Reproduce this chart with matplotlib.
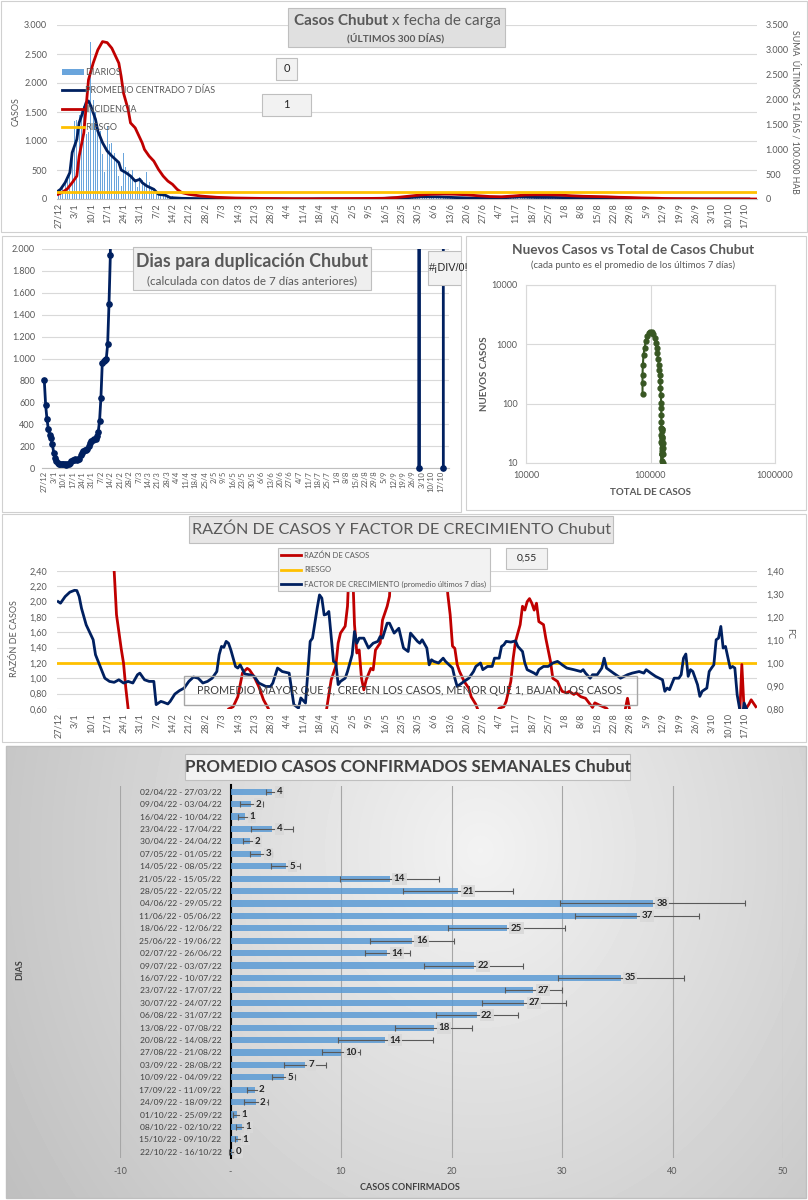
import numpy as np
import matplotlib
matplotlib.use("Agg")
import matplotlib.pyplot as plt
from matplotlib.patches import Rectangle
from matplotlib.ticker import FuncFormatter

plt.rcParams['font.family'] = ['Lato', 'DejaVu Sans']

# --------------------------------------------------
# Datos
# --------------------------------------------------
fechas_ticks = ['27/12', '3/1', '10/1', '17/1', '24/1', '31/1', '7/2', '14/2', '21/2', '28/2',
                '7/3', '14/3', '21/3', '28/3', '4/4', '11/4', '18/4', '25/4', '2/5', '9/5',
                '16/5', '23/5', '30/5', '6/6', '13/6', '20/6', '27/6', '4/7', '11/7', '18/7',
                '25/7', '1/8', '8/8', '15/8', '22/8', '29/8', '5/9', '12/9', '19/9', '26/9',
                '3/10', '10/10', '17/10']

# casos diarios desde el 27/12 (300 días)
diarios = [150, 120, 200, 260, 330, 560, 700, 1350, 1370, 1440,
           1560, 1600, 1120, 1150, 2700, 1700, 1500, 1270, 1180, 780,
           460, 1250, 950, 960, 800, 640, 400, 230, 790, 560,
           480, 420, 500, 350, 200, 380, 330, 280, 470, 300,
           180, 100, 120, 80, 60, 50, 45, 30, 20, 50,
           40, 35, 30, 28, 20, 15, 25, 18, 14, 12, 10, 9, 12, 8, 7, 6, 5, 8, 6, 5,
           4, 7, 5, 4, 3, 6, 4, 3, 5, 3, 2, 4, 3, 3, 2, 4, 5, 2, 3, 3,
           5, 4, 3, 6, 4, 2, 3, 2, 3, 1, 2, 3, 1, 1, 1, 2, 1, 2, 1, 1, 1,
           2, 4, 6, 5, 4, 3, 3, 3, 2, 1, 2, 2, 1, 2, 2, 3, 4, 3, 2, 3, 3,
           4, 5, 6, 7, 5, 4, 4, 8, 10, 14, 16, 18, 17, 18, 15, 22, 25, 20, 18, 22, 22,
           30, 45, 52, 40, 35, 30, 35, 42, 38, 35, 40, 32, 36, 35, 30, 28, 26, 22, 24, 20, 25,
           18, 17, 15, 16, 18, 14, 17, 12, 14, 15, 16, 13, 14, 15, 17, 20, 25, 24, 22, 23, 23,
           30, 38, 40, 36, 33, 35, 35, 30, 28, 26, 27, 25, 28, 28, 24, 27, 28, 26, 27, 28, 26,
           25, 23, 21, 22, 20, 22, 23, 20, 19, 17, 18, 18, 19, 18, 15, 16, 13, 14, 12, 14, 14,
           12, 10, 9, 11, 9, 10, 9, 8, 7, 6, 7, 6, 7, 6, 6, 5, 4, 5, 5, 4, 5,
           3, 2, 2, 3, 2, 2, 1, 2, 3, 2, 3, 2, 2, 2, 1, 0, 1, 1, 0, 1, 0,
           1, 1, 2, 1, 0, 1, 1, 1, 0, 1, 1, 1, 0, 1, 0, 1, 0, 0, 0, 0, 0]

# promedio centrado 7 días
navy_dias = [0, 1, 3, 5, 6, 8, 9, 11, 12, 13, 14, 16, 17, 19, 21, 23, 26, 27, 29, 31,
             33, 35, 36, 38, 41, 43, 46, 48, 53, 60, 70, 80,
             93, 100, 107, 114, 121, 128, 135, 142, 149, 156, 163, 170, 177, 184, 191,
             198, 205, 212, 219, 226, 233, 240, 247, 254, 261, 268, 275, 282, 289, 296]
navy_vals = [138, 167, 283, 455, 800, 1029, 1317, 1546, 1662, 1690, 1603, 1374, 1172, 972,
             828, 741, 628, 500, 455, 397, 310, 340, 283, 224, 167, 81, 64, 24, 12, 7, 5, 4,
             3.8, 1.9, 1.3, 3.8, 1.8, 2.8, 5.0, 14.4, 20.6, 38.2, 36.8, 25.0, 16.4, 14.2,
             22.0, 35.3, 27.4, 26.6, 22.3, 18.4, 14.0, 10.0, 6.7, 4.8, 2.2, 2.3, 0.6, 1.0,
             0.7, 0.1]

# incidencia: suma últimos 14 días / 100.000 hab
incid_dias = [0, 2, 4, 6, 8, 9, 11, 12, 13, 15, 17, 19, 21, 23, 26, 27, 28, 30, 31, 33,
              34, 36, 37, 39, 41, 43, 45, 47, 49, 51, 53, 56, 61, 68, 76, 90, 100, 110, 120, 130,
              140, 145, 150, 155, 160, 165, 170, 175, 180, 185, 190, 195, 200, 205, 210, 215,
              220, 225, 230, 235, 240, 245, 250, 255, 260, 265, 270, 280, 290, 299]
incid_vals = [94, 140, 208, 329, 461, 862, 1331, 1864, 2399, 2733, 3000, 3166, 3146, 3033,
              2733, 2465, 2132, 1797, 1531, 1431, 1331, 1130, 996, 862, 762, 595, 461, 361,
              295, 194, 128, 94, 60, 34, 20, 10, 5, 5, 8, 10, 15, 30, 55, 80, 95, 100, 95, 85,
              65, 50, 45, 60, 80, 85, 85, 80, 65, 55, 50, 45, 35, 30, 22, 18, 10, 6, 4, 2, 1, 0]
riesgo_incidencia = 150

# días para duplicación (valores fuera de escala arriba de 2.000)
dup_dias = list(range(50)) + [50, 277, 278, 279, 295, 296]
dup_vals = [800, 575, 445, 355, 300, 270, 215, 140, 95, 60,
            45, 38, 36, 35, 34, 32, 30, 33, 40, 50,
            65, 72, 76, 78, 77, 80, 85, 115, 140, 152,
            160, 165, 175, 200, 225, 245, 260, 265, 268, 290,
            330, 430, 640, 955, 975, 990, 1000, 1130, 1500, 1945,
            1e5, 1e5, 0, 1e5, 1e5, 0]

# nuevos casos vs total de casos
total_casos = [86300, 86300, 86300, 86800, 87900, 89500, 91800, 94000, 96400, 99400,
               102500, 105700, 107700, 110300, 112400, 113800, 115200, 116600, 118100, 118800,
               119500, 120300, 121000, 121800, 122000, 122200, 122300, 122400, 122500, 122550,
               122600, 122650, 122700, 122720, 122740, 122760, 122800, 122900, 123100, 123350,
               123600, 123780, 123900, 124000, 124200, 124400, 124600, 124750, 124900, 125000,
               125100, 125150, 125200, 125220]
nuevos_casos = [145, 222, 306, 451, 665, 861, 1143, 1387, 1538, 1641,
                1599, 1480, 1300, 1045, 861, 710, 569, 451, 372, 306,
                237, 183, 141, 102, 84, 65, 50, 39, 30, 23,
                18, 14, 11, 8, 5, 4, 6, 14, 21, 38,
                37, 25, 16, 14, 22, 35, 27, 27, 22, 18,
                14, 10, 7, 5]

# razón de casos (día, valor)
razon_puntos = [(0, 3.2), (10, 3.5), (20, 2.9), (24, 2.40), (25, 1.83), (27, 1.39), (28, 1.20),
                (29, 0.87), (30, 0.60), (32, 0.35), (50, 0.30), (70, 0.45), (73, 0.60), (75, 0.63),
                (77, 0.76), (79, 1.07), (81, 1.13), (82, 1.11), (84, 1.02), (86, 0.89), (88, 0.72),
                (90, 0.61), (91, 0.53), (100, 0.30), (113, 0.45), (115, 0.59), (117, 0.98),
                (119, 1.16), (120, 1.46), (121, 1.59), (123, 1.68), (124, 1.94), (125, 2.70),
                (126, 2.60), (127, 1.70), (128, 1.33), (129, 1.37), (130, 1.00), (131, 0.85),
                (132, 0.98), (134, 1.13), (135, 1.11), (136, 1.37), (138, 1.46), (139, 1.76),
                (141, 1.94), (142, 2.07), (143, 2.70), (155, 3.20), (166, 2.45), (167, 2.09),
                (168, 1.83), (169, 1.42), (170, 1.39), (171, 1.18), (172, 1.09), (174, 0.96),
                (176, 0.87), (177, 0.76), (179, 0.66), (180, 0.58), (185, 0.40), (189, 0.61),
                (191, 0.63), (192, 0.70), (194, 0.96), (195, 1.26), (196, 1.48), (198, 1.70),
                (199, 1.94), (200, 1.89), (201, 2.00), (202, 2.04), (203, 1.98), (204, 1.89),
                (205, 1.98), (206, 1.74), (208, 1.70), (209, 1.52), (211, 1.22), (212, 1.00),
                (214, 0.96), (215, 0.89), (216, 0.83), (218, 0.81), (219, 0.83), (221, 0.79),
                (222, 0.81), (224, 0.76), (226, 0.74), (227, 0.70), (229, 0.62), (230, 0.68),
                (232, 0.65), (235, 0.61), (236, 0.57), (240, 0.45), (243, 0.59), (244, 0.74),
                (245, 0.57), (250, 0.40), (270, 0.35), (292, 0.45), (293, 1.18), (294, 0.57),
                (296, 0.66), (297, 0.72), (299, 0.63)]
riesgo_razon = 1.20

# factor de crecimiento, promedio últimos 7 días (día, valor)
fc_puntos = [(0, 1.267), (1, 1.260), (3, 1.289), (5, 1.308), (7, 1.316), (8, 1.315), (9, 1.289),
             (10, 1.238), (12, 1.166), (15, 1.101), (16, 1.036), (18, 0.985), (20, 0.934),
             (22, 0.920), (24, 0.916), (26, 0.927), (28, 0.913), (30, 0.920), (32, 0.913),
             (34, 0.949), (35, 0.956), (37, 0.927), (39, 0.920), (41, 0.920), (42, 0.819),
             (44, 0.833), (45, 0.830), (47, 0.822), (48, 0.833), (50, 0.865), (52, 0.880),
             (54, 0.891), (56, 0.920), (58, 0.939), (60, 0.934), (62, 0.913), (64, 0.920),
             (66, 0.934), (68, 0.963), (69, 1.036), (70, 1.072), (71, 1.068), (72, 1.094),
             (73, 1.086), (74, 1.057), (76, 0.985), (77, 0.978), (78, 0.992), (80, 0.952),
             (82, 0.949), (84, 0.942), (86, 0.913), (89, 0.898), (91, 0.898), (92, 0.913),
             (94, 0.978), (95, 0.971), (96, 0.963), (99, 0.956), (101, 0.819), (103, 0.804),
             (104, 0.848), (106, 0.826), (108, 1.094), (109, 1.108), (111, 1.238), (112, 1.296),
             (113, 1.282), (114, 1.209), (115, 1.212), (116, 1.224), (118, 1.007), (119, 1.000),
             (120, 0.906), (121, 0.920), (123, 0.934), (124, 0.963), (126, 1.036), (127, 1.137),
             (128, 1.086), (129, 1.108), (131, 1.108), (133, 1.065), (135, 1.086), (137, 1.094),
             (138, 1.115), (139, 1.108), (141, 1.173), (142, 1.173), (144, 1.130), (146, 1.151),
             (148, 1.065), (150, 1.050), (151, 1.130), (154, 1.094), (155, 1.086), (156, 1.101),
             (158, 1.065), (159, 0.992), (160, 1.014), (161, 1.007), (163, 1.000), (165, 1.021),
             (166, 1.007), (169, 0.978), (170, 0.934), (171, 0.898), (173, 0.913), (174, 0.920),
             (176, 0.934), (178, 0.963), (179, 0.985), (181, 1.000), (182, 0.971), (184, 0.985),
             (186, 0.985), (187, 1.021), (189, 1.021), (190, 1.072), (191, 1.079), (192, 1.094),
             (194, 1.091), (196, 1.096), (197, 1.072), (199, 1.050), (200, 1.000), (201, 0.971),
             (204, 0.956), (205, 0.949), (206, 0.971), (208, 0.985), (210, 0.985), (212, 1.000),
             (214, 1.007), (215, 1.000), (216, 0.992), (218, 0.978), (221, 0.971), (224, 0.963),
             (225, 0.971), (226, 0.956), (228, 0.934), (229, 0.949), (231, 0.949), (233, 0.978),
             (234, 1.021), (235, 0.978), (238, 0.956), (240, 0.942), (241, 0.934), (244, 0.949),
             (246, 0.956), (249, 0.963), (251, 0.956), (252, 0.971), (254, 0.956), (256, 0.942),
             (259, 0.927), (260, 0.877), (261, 0.891), (262, 0.884), (264, 0.934), (266, 0.934),
             (267, 0.949), (268, 1.021), (269, 1.039), (270, 0.942), (271, 0.971), (272, 0.963),
             (274, 0.906), (275, 0.855), (276, 0.877), (278, 0.891), (279, 0.963), (280, 0.978),
             (281, 0.992), (282, 1.101), (283, 1.108), (284, 1.159), (285, 1.065), (286, 1.072),
             (288, 0.978), (289, 0.985), (290, 0.978), (291, 0.862), (292, 0.804), (293, 0.746),
             (294, 0.826), (296, 0.775), (297, 0.718)]

# promedio semanal de casos confirmados
semanas = ['02/04/22 - 27/03/22', '09/04/22 - 03/04/22', '16/04/22 - 10/04/22',
           '23/04/22 - 17/04/22', '30/04/22 - 24/04/22', '07/05/22 - 01/05/22',
           '14/05/22 - 08/05/22', '21/05/22 - 15/05/22', '28/05/22 - 22/05/22',
           '04/06/22 - 29/05/22', '11/06/22 - 05/06/22', '18/06/22 - 12/06/22',
           '25/06/22 - 19/06/22', '02/07/22 - 26/06/22', '09/07/22 - 03/07/22',
           '16/07/22 - 10/07/22', '23/07/22 - 17/07/22', '30/07/22 - 24/07/22',
           '06/08/22 - 31/07/22', '13/08/22 - 07/08/22', '20/08/22 - 14/08/22',
           '27/08/22 - 21/08/22', '03/09/22 - 28/08/22', '10/09/22 - 04/09/22',
           '17/09/22 - 11/09/22', '24/09/22 - 18/09/22', '01/10/22 - 25/09/22',
           '08/10/22 - 02/10/22', '15/10/22 - 09/10/22', '22/10/22 - 16/10/22']
semanal_prom = [3.8, 1.9, 1.3, 3.8, 1.8, 2.8, 5.0, 14.4, 20.6, 38.2, 36.8, 25.0, 16.4, 14.2,
                22.0, 35.3, 27.4, 26.6, 22.3, 18.4, 14.0, 10.0, 6.7, 4.8, 2.2, 2.3, 0.6, 1.0,
                0.7, 0.1]
semanal_err = [0.6, 1.0, 0.6, 1.9, 0.7, 1.0, 1.3, 4.5, 5.0, 8.4, 5.6, 5.3, 3.8, 2.0,
               4.5, 5.7, 2.6, 3.8, 3.7, 3.5, 4.3, 1.7, 1.9, 1.0, 0.7, 1.1, 0.4, 0.5,
               0.3, 0.2]

# --------------------------------------------------
# Estilo
# --------------------------------------------------
W, H = 808, 1200
GRIS = '#595959'
GRID = '#d9d9d9'
AZUL_BAR = '#5b9bd5'
NAVY = '#002060'
ROJO = '#c00000'
NARANJA = '#ffc000'
VERDE = '#385723'

fig = plt.figure(figsize=(W / 100, H / 100), dpi=100)


def ax_px(l, t, r, b):
    return fig.add_axes([l / W, 1 - b / H, (r - l) / W, (b - t) / H])


def caja(ax, l, t, r, b, fc='#f2f2f2', ec='#bfbfbf', lw=0.8, z=1):
    ax.add_patch(Rectangle((l, t), r - l, b - t, facecolor=fc, edgecolor=ec, lw=lw, zorder=z))


def estilo(ax, fs=6.5):
    for s in ax.spines.values():
        s.set_visible(False)
    ax.tick_params(length=0, labelsize=fs, labelcolor=GRIS)


def leyenda_ordenada(ax_a, ax_b, orden):
    h1, l1 = ax_a.get_legend_handles_labels()
    h2, l2 = ax_b.get_legend_handles_labels()
    d = dict(zip(l1 + l2, h1 + h2))
    return [d[k] for k in orden], orden


miles = FuncFormatter(lambda v, p: f"{v:,.0f}".replace(",", "."))
coma2 = FuncFormatter(lambda v, p: f"{v:.2f}".replace(".", ","))

x_ticks = np.arange(len(fechas_ticks)) * 7
dias = np.arange(len(diarios))

# fondo, marcos y degradado del último panel
bg = ax_px(0, 0, W, H)
yy, xx = np.mgrid[746:1198, 6:806]
grad = np.clip(0.95 - 0.15 * np.hypot((xx - 480) / 420, (yy - 850) / 480), 0, 1)
bg.imshow(grad, cmap='gray', vmin=0, vmax=1, extent=(6, 806, 1198, 746), aspect='auto', zorder=0)
caja(bg, 0.5, 0.5, 807, 232, fc='white', ec='#d0d0d0')
caja(bg, 2, 236, 461, 512, fc='white', ec='#d0d0d0')
caja(bg, 466, 236, 806, 510, fc='white', ec='#d0d0d0')
caja(bg, 2, 514, 806, 742, fc='white', ec='#d0d0d0')
bg.add_patch(Rectangle((6, 746), 800, 452, fill=False, edgecolor='#bfbfbf', lw=1))
bg.set_xlim(0, W)
bg.set_ylim(H, 0)
bg.axis('off')

# capa superior para títulos y cuadros de texto
ov = ax_px(0, 0, W, H)
ov.set_xlim(0, W)
ov.set_ylim(H, 0)
ov.axis('off')
ov.set_zorder(50)

# --------------------------------------------------
# 1) Casos Chubut x fecha de carga
# --------------------------------------------------
ax1 = ax_px(57, 25, 757, 199)
estilo(ax1)
ax1.bar(dias, diarios, width=0.55, color='#6aa5dc', label='DIARIOS', zorder=2)
ax1.plot(navy_dias, navy_vals, color=NAVY, lw=2, label='PROMEDIO CENTRADO 7 DÍAS', zorder=3)
ax1.set_xlim(-0.5, 299.5)
ax1.set_ylim(0, 3000)
ax1.set_yticks(np.arange(0, 3001, 500))
ax1.yaxis.set_major_formatter(miles)
ax1.grid(axis='y', color=GRID, lw=0.8)
ax1.set_axisbelow(True)
ax1.set_xticks(x_ticks)
ax1.set_xticklabels(fechas_ticks, rotation=90)
ax1.spines['bottom'].set_visible(True)
ax1.spines['bottom'].set_color('#bfbfbf')
ax1.tick_params(axis='y', pad=7)
ax1.tick_params(axis='x', pad=3)
ax1.set_ylabel('CASOS', fontsize=6.5, color=GRIS, va='center')
ax1.yaxis.set_label_coords(-0.059, 0.5)

ax1r = ax1.twinx()
estilo(ax1r)
ax1r.plot(incid_dias, incid_vals, color=ROJO, lw=2, label='INCIDENCIA', zorder=3)
ax1r.axhline(riesgo_incidencia, color=NARANJA, lw=2, label='RIESGO', zorder=4)
ax1r.set_ylim(0, 3500)
ax1r.set_yticks(np.arange(0, 3501, 500))
ax1r.yaxis.set_major_formatter(miles)
ax1r.tick_params(axis='y', pad=6)
ax1r.set_ylabel('SUMA  ÚLTIMOS 14 DÍAS / 100.000 HAB', fontsize=6.3, color=GRIS,
                rotation=270, va='center')
ax1r.yaxis.set_label_coords(1.054, 0.5)

hh, ll = leyenda_ordenada(ax1, ax1r, ['DIARIOS', 'PROMEDIO CENTRADO 7 DÍAS', 'INCIDENCIA', 'RIESGO'])
ax1r.legend(hh, ll, loc='upper left', bbox_to_anchor=(62 / W, 1 - 68 / H),
            bbox_transform=fig.transFigure, frameon=False, fontsize=6.5, labelcolor=GRIS,
            handlelength=2.4, handletextpad=0.15, labelspacing=1.05, borderpad=0,
            borderaxespad=0)

caja(ov, 288, 8, 505, 47, fc='#e0e0e0', ec='#bfbfbf')
ov.text(388, 21, 'Casos Chubut', fontsize=11, fontweight='bold', color=GRIS, ha='right', va='center')
ov.text(392, 21, 'x fecha de carga', fontsize=11, color=GRIS, ha='left', va='center')
ov.text(396, 38, '(ÚLTIMOS 300 DÍAS)', fontsize=7.3, fontweight='bold', color=GRIS,
        ha='center', va='center')
caja(ov, 276, 58, 297, 80)
ov.text(286.5, 69, '0', fontsize=8, color='#262626', ha='center', va='center')
caja(ov, 262, 94, 311, 116)
ov.text(286.5, 105, '1', fontsize=8, color='#262626', ha='center', va='center')

# --------------------------------------------------
# 2) Días para duplicación
# --------------------------------------------------
ax2 = ax_px(42, 249, 449, 468)
estilo(ax2)
ax2.plot(dup_dias, dup_vals, color=NAVY, lw=2, zorder=3)
en_rango = [(d, v) for d, v in zip(dup_dias, dup_vals) if v <= 2000]
ax2.plot([d for d, v in en_rango], [v for d, v in en_rango], ls='none', marker='o', ms=3.8,
         color=NAVY, clip_on=False, zorder=4)
ax2.set_xlim(-1.7, 300.2)
ax2.set_ylim(0, 2000)
ax2.set_yticks(np.arange(0, 2001, 200))
ax2.yaxis.set_major_formatter(miles)
ax2.grid(axis='y', color=GRID, lw=0.8)
ax2.set_axisbelow(True)
ax2.set_xticks(x_ticks)
ax2.set_xticklabels(fechas_ticks, rotation=90, fontsize=5.5)
ax2.spines['bottom'].set_visible(True)
ax2.spines['bottom'].set_color('#bfbfbf')
ax2.tick_params(axis='y', pad=5)
ax2.tick_params(axis='x', pad=2)

caja(ov, 133, 247, 371, 290, fc='#efefef', ec='#bfbfbf')
ov.text(252, 262, 'Dias para duplicación Chubut', fontsize=12.8, fontweight='bold', color=GRIS,
        ha='center', va='center')
ov.text(252, 281, '(calculada con datos de 7 días anteriores)', fontsize=8.4, color=GRIS,
        ha='center', va='center')
clip_p2 = Rectangle((2, 236), 459, 276, transform=ov.transData)
div_box = Rectangle((428, 251), 50, 34, facecolor='#f2f2f2', edgecolor='#bfbfbf', lw=0.8)
ov.add_patch(div_box)
div_box.set_clip_path(clip_p2)
t_div = ov.text(429, 268, '#¡DIV/0!', fontsize=7.8, color='#262626', ha='left', va='center',
                family=['Liberation Sans', 'DejaVu Sans'])
t_div.set_clip_path(clip_p2)

# --------------------------------------------------
# 3) Nuevos casos vs total de casos
# --------------------------------------------------
ax4 = ax_px(526, 285, 775, 463)
ax4.set_xscale('log')
ax4.set_yscale('log')
ax4.plot(total_casos, nuevos_casos, color=VERDE, lw=1.5, marker='o', ms=3.5, zorder=3)
ax4.set_xlim(1e4, 1e6)
ax4.set_ylim(10, 1e4)
ax4.set_xticks([1e4, 1e5, 1e6])
ax4.set_xticklabels(['10000', '100000', '1000000'])
ax4.set_yticks([10, 100, 1000, 10000])
ax4.set_yticklabels(['10', '100', '1000', '10000'])
ax4.minorticks_off()
ax4.grid(color=GRID, lw=0.8)
for s in ax4.spines.values():
    s.set_color(GRID)
ax4.tick_params(length=0, labelsize=6.5, labelcolor=GRIS, pad=6)
ax4.set_xlabel('TOTAL DE CASOS', fontsize=7, fontweight='bold', color=GRIS, va='center')
ax4.xaxis.set_label_coords(0.498, -0.163)
ax4.set_ylabel('NUEVOS CASOS', fontsize=7, fontweight='bold', color=GRIS, va='center')
ax4.yaxis.set_label_coords(-0.165, 0.5)
ov.text(633, 250, 'Nuevos Casos vs Total de Casos Chubut', fontsize=9.8, fontweight='bold',
        color=GRIS, ha='center', va='center')
ov.text(633, 265, '(cada punto es el promedio de los últimos 7 días)', fontsize=6.9,
        color=GRIS, ha='center', va='center')

# --------------------------------------------------
# 4) Razón de casos y factor de crecimiento
# --------------------------------------------------
razon_dias, razon_vals = zip(*razon_puntos)
fc_dias, fc_vals = zip(*fc_puntos)

ax3 = ax_px(57, 571, 757, 709)
estilo(ax3)
ax3.plot(razon_dias, razon_vals, color=ROJO, lw=2, label='RAZÓN DE CASOS', zorder=3)
ax3.axhline(riesgo_razon, color=NARANJA, lw=2, label='RIESGO', zorder=2)
ax3.set_xlim(-0.5, 299.5)
ax3.set_ylim(0.6, 2.4)
ax3.set_yticks(np.arange(0.6, 2.41, 0.2))
ax3.yaxis.set_major_formatter(coma2)
ax3.grid(axis='y', color=GRID, lw=0.8)
ax3.set_axisbelow(True)
ax3.set_xticks(x_ticks)
ax3.set_xticklabels(fechas_ticks, rotation=90)
ax3.tick_params(axis='y', pad=7)
ax3.tick_params(axis='x', pad=3)
ax3.set_ylabel('RAZÓN DE CASOS', fontsize=6.5, color=GRIS, va='center')
ax3.yaxis.set_label_coords(-0.061, 0.51)

ax3r = ax3.twinx()
estilo(ax3r)
ax3r.plot(fc_dias, fc_vals, color=NAVY, lw=2,
          label='FACTOR DE CRECIMIENTO (promedio últimos 7 días)', zorder=3)
ax3r.set_ylim(0.8, 1.4)
ax3r.set_yticks(np.arange(0.8, 1.41, 0.1))
ax3r.yaxis.set_major_formatter(coma2)
ax3r.tick_params(axis='y', pad=7)
ax3r.set_ylabel('FC', fontsize=6.5, color=GRIS, rotation=270, va='center')
ax3r.yaxis.set_label_coords(1.047, 0.55)

hh, ll = leyenda_ordenada(ax3, ax3r, ['RAZÓN DE CASOS', 'RIESGO',
                                       'FACTOR DE CRECIMIENTO (promedio últimos 7 días)'])
leg3 = ax3r.legend(hh, ll, loc='upper left', bbox_to_anchor=(278 / W, 1 - 548 / H),
                   bbox_transform=fig.transFigure, frameon=True, fancybox=False,
                   facecolor='#f2f2f2', edgecolor='#bfbfbf', framealpha=1, fontsize=5.5,
                   labelcolor=GRIS, handlelength=2.6, handletextpad=0.35, labelspacing=0.95,
                   borderpad=0.45, borderaxespad=0)
leg3.get_frame().set_linewidth(0.8)
leg3.set_zorder(20)

caja(ov, 189, 516, 613, 543, fc='#e7e6e6', ec='#bfbfbf')
ov.text(401, 530, 'RAZÓN DE CASOS Y FACTOR DE CRECIMIENTO Chubut', fontsize=11.7, color=GRIS,
        ha='center', va='center')
caja(ov, 506, 548, 547, 569)
ov.text(526.5, 558.5, '0,55', fontsize=7.5, color='#262626', ha='center', va='center')
ov.add_patch(Rectangle((184, 676), 453, 29, fill=False, edgecolor='#a6a6a6', lw=1))
ov.text(410, 691, 'PROMEDIO MAYOR QUE 1, CRECEN LOS CASOS, MENOR QUE 1, BAJAN LOS CASOS',
        fontsize=7.8, color='#404040', ha='center', va='center')

# --------------------------------------------------
# 5) Promedio casos confirmados semanales
# --------------------------------------------------
ax5 = ax_px(120, 785.5, 783, 1158)
ax5.patch.set_visible(False)
pos = np.arange(len(semanas))
ax5.barh(pos, semanal_prom, height=0.5, color=AZUL_BAR, alpha=0.85, xerr=semanal_err,
         error_kw=dict(ecolor='#595959', elinewidth=0.8, capsize=2, capthick=0.8), zorder=3)
ax5.set_xlim(-10, 50)
ax5.set_ylim(len(semanas) - 0.5, -0.5)
ax5.set_xticks(np.arange(-10, 51, 10))
ax5.set_xticklabels(['-10', '-', '10', '20', '30', '40', '50'])
ax5.set_yticks(pos)
ax5.set_yticklabels(semanas)
ax5.grid(axis='x', color='#a6a6a6', lw=0.8)
ax5.set_axisbelow(True)
for s in ['top', 'right', 'bottom']:
    ax5.spines[s].set_visible(False)
ax5.spines['left'].set_position(('data', 0))
ax5.spines['left'].set_color('black')
ax5.spines['left'].set_linewidth(1.5)
ax5.tick_params(length=0, labelsize=6.1, labelcolor='#404040')
ax5.tick_params(axis='y', pad=6.5)
ax5.tick_params(axis='x', pad=6.5, labelsize=6.5, labelcolor=GRIS)
for i, v in enumerate(semanal_prom):
    ax5.annotate(f"{v:.0f}", (v, i), xytext=(3, 0), textcoords='offset points',
                 ha='left', va='center', fontsize=7, fontweight='bold', color='#262626',
                 bbox=dict(boxstyle='square,pad=0.15', fc='#d9d9d9', ec='none', alpha=0.9),
                 zorder=5)
ax5.set_xlabel('CASOS CONFIRMADOS', fontsize=6.5, fontweight='bold', color='#404040', va='center')
ax5.xaxis.set_label_coords((410 - 120) / 663, -30 / 372.5)
ax5.set_ylabel('DIAS', fontsize=6.5, fontweight='bold', color='#404040', va='center')
ax5.yaxis.set_label_coords(-0.151, 0.505)

caja(ov, 185, 754, 630, 780, fc='#f2f2f2', ec='#bfbfbf')
ov.text(407.5, 767, 'PROMEDIO CASOS CONFIRMADOS SEMANALES Chubut', fontsize=12.2,
        fontweight='bold', color='#404040', ha='center', va='center')

fig.savefig('out.png', dpi=100)
